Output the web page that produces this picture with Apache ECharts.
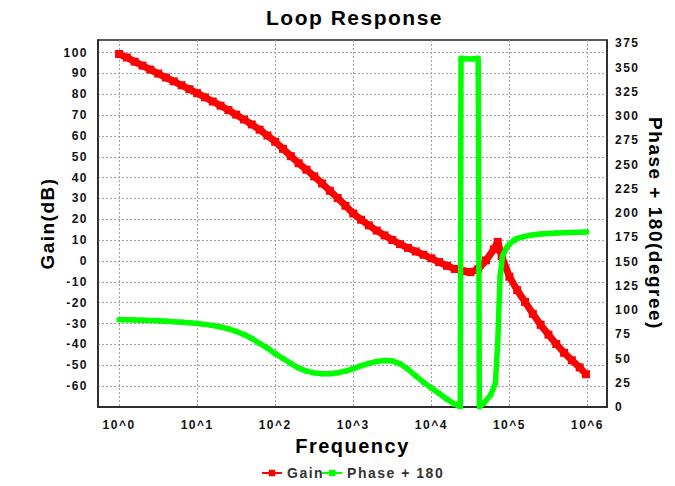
<!DOCTYPE html>
<html>
<head>
<meta charset="utf-8">
<script src="https://cdn.jsdelivr.net/npm/echarts@6/dist/echarts.min.js"></script>
<style>
  html, body { margin: 0; padding: 0; background: #fff; }
  #chart { width: 675px; height: 486px; }
  #chart text { letter-spacing: 1.5px; }
</style>
</head>
<body>
<div id="chart"></div>
<script>
// Frequency is stored as log10(Hz); the x axis is linear in that exponent.
const gainLogFreq = [0.0, 0.1, 0.2, 0.3, 0.4, 0.5, 0.6, 0.7, 0.8, 0.9,
  1.0, 1.1, 1.2, 1.3, 1.4, 1.5, 1.6, 1.7, 1.8, 1.9,
  2.0, 2.1, 2.2, 2.3, 2.4, 2.5, 2.6, 2.7, 2.8, 2.9,
  3.0, 3.1, 3.2, 3.3, 3.4, 3.5, 3.6, 3.7, 3.8, 3.9,
  4.0, 4.1, 4.2, 4.3, 4.4, 4.5, 4.6, 4.7, 4.8, 4.85, 4.9,
  5.0, 5.1, 5.2, 5.3, 5.4, 5.5, 5.6, 5.7, 5.8, 5.9, 5.98];
const gainDb = [99.3, 97.6, 95.6, 93.7, 91.8, 89.9, 88.0, 86.2, 84.3, 82.4,
  80.5, 78.5, 76.5, 74.5, 72.4, 70.2, 67.9, 65.5, 63.0, 60.2,
  57.2, 53.8, 50.3, 46.9, 43.8, 40.6, 37.2, 33.7, 30.2, 26.5,
  22.8, 19.8, 17.1, 14.6, 12.3, 10.1, 8.1, 6.3, 4.6, 3.0,
  1.3, -0.5, -2.3, -3.8, -4.9, -5.3, -3.9, 0.3, 5.6, 9.2, 2.4,
  -7.5, -14.0, -19.6, -25.3, -30.6, -35.3, -39.8, -44.0, -47.6, -51.0, -54.3];

const phaseLogFreq = [0.0, 0.1, 0.2, 0.3, 0.4, 0.5, 0.6, 0.7, 0.8, 0.9,
  1.0, 1.1, 1.2, 1.3, 1.4, 1.5, 1.6, 1.7, 1.8, 1.9,
  2.0, 2.1, 2.2, 2.3, 2.4, 2.5, 2.6, 2.7, 2.8, 2.9,
  3.0, 3.1, 3.2, 3.3, 3.4, 3.5, 3.6, 3.7, 3.8, 3.9,
  4.0, 4.1, 4.2, 4.3, 4.37, 4.38, 4.45, 4.52, 4.6, 4.615,
  4.67, 4.76, 4.82, 4.85, 4.88, 4.91, 4.96, 5.0, 5.06, 5.1,
  5.2, 5.31, 5.4, 5.5, 5.6, 5.8, 5.99];
const phaseDeg = [90.0, 89.9, 89.7, 89.5, 89.2, 88.9, 88.5, 88.0, 87.5, 86.9,
  86.2, 85.2, 84.0, 82.5, 80.5, 78.0, 74.7, 70.6, 65.5, 60.8,
  55.0, 50.0, 44.8, 40.2, 37.0, 35.2, 34.2, 34.3, 35.3, 37.0,
  39.5, 42.5, 45.0, 47.0, 48.0, 47.5, 44.5, 39.0, 32.0, 25.5,
  19.5, 14.0, 8.0, 3.0, 0.2, 359.6, 359.2, 359.0, 359.6, 0.3,
  3.8, 12.4, 24.5, 65.8, 134.6, 155.0, 164.0, 168.0, 172.0, 173.8,
  176.0, 177.6, 178.4, 179.0, 179.5, 180.0, 180.4];

const decadeTicks = [0, 1, 2, 3, 4, 5, 6];
const gainTicks = [-60, -50, -40, -30, -20, -10, 0, 10, 20, 30, 40, 50, 60, 70, 80, 90, 100];
const phaseTicks = [0, 25, 50, 75, 100, 125, 150, 175, 200, 225, 250, 275, 300, 325, 350, 375];

const FONT = "'Liberation Sans', Arial, sans-serif";
const gainData = gainLogFreq.map((f, i) => [f, gainDb[i]]);
const phaseData = phaseLogFreq.map((f, i) => [f, phaseDeg[i]]);

const gridLine = { show: true, lineStyle: { color: '#a0a0a0', width: 1, type: [2, 2] } };
const tickLabel = { color: '#111', fontFamily: FONT, fontWeight: 'bold', fontSize: 12 };
const axisName = { color: '#000', fontFamily: FONT, fontWeight: 'bold', fontSize: 19 };
const frameLine = { show: true, onZero: false, lineStyle: { color: '#222', width: 1.5 } };

const chart = echarts.init(document.getElementById('chart'), null, { renderer: 'svg' });
chart.setOption({
  animation: false,
  backgroundColor: '#fff',
  title: {
    text: 'Loop Response',
    left: 261,
    top: 2,
    textStyle: { color: '#000', fontFamily: FONT, fontWeight: 'bold', fontSize: 21 }
  },
  legend: {
    bottom: 1,
    left: 256,
    itemWidth: 20,
    itemHeight: 8,
    itemGap: 3,
    textStyle: { color: '#333', fontFamily: FONT, fontWeight: 'bold', fontSize: 14 },
    data: ['Gain', 'Phase + 180']
  },
  grid: {
    left: 98, right: 68, top: 40, bottom: 79,
    show: true, borderColor: '#222', borderWidth: 1.5, backgroundColor: '#fff'
  },
  xAxis: {
    type: 'value',
    min: -0.27, max: 6.25,
    name: 'Frequency',
    nameLocation: 'middle',
    nameGap: 28,
    nameTextStyle: Object.assign({}, axisName, { fontSize: 20 }),
    axisLine: frameLine,
    axisTick: { show: false, customValues: decadeTicks },
    axisLabel: Object.assign({ customValues: decadeTicks, margin: 12, formatter: v => '10^' + v }, tickLabel),
    splitLine: gridLine
  },
  yAxis: [{
    type: 'value',
    position: 'left',
    min: -70, max: 106,
    name: 'Gain(dB)',
    nameLocation: 'middle',
    nameGap: 40,
    nameTextStyle: axisName,
    axisLine: frameLine,
    axisTick: { show: false, customValues: gainTicks },
    axisLabel: Object.assign({ customValues: gainTicks, margin: 10 }, tickLabel),
    splitLine: gridLine
  }, {
    type: 'value',
    position: 'right',
    min: 0, max: 378.5,
    name: 'Phase + 180(degree)',
    nameLocation: 'middle',
    nameRotate: -90,
    nameGap: 39,
    nameTextStyle: axisName,
    axisLine: frameLine,
    axisTick: { show: false, customValues: phaseTicks },
    axisLabel: Object.assign({ customValues: phaseTicks, margin: 8 }, tickLabel),
    splitLine: { show: false }
  }],
  series: [{
    name: 'Gain',
    type: 'line',
    yAxisIndex: 0,
    data: gainData,
    symbol: 'rect',
    symbolSize: 8,
    showAllSymbol: true,
    color: '#ff0000',
    lineStyle: { color: '#ff0000', width: 7 },
    itemStyle: { color: '#ff0000' },
    z: 2
  }, {
    name: 'Phase + 180',
    type: 'line',
    yAxisIndex: 1,
    data: phaseData,
    symbol: 'rect',
    symbolSize: 5,
    showAllSymbol: true,
    color: '#00ff00',
    lineStyle: { color: '#00ff00', width: 5.5 },
    itemStyle: { color: '#00ff00' },
    z: 3
  }]
});
</script>
</body>
</html>
